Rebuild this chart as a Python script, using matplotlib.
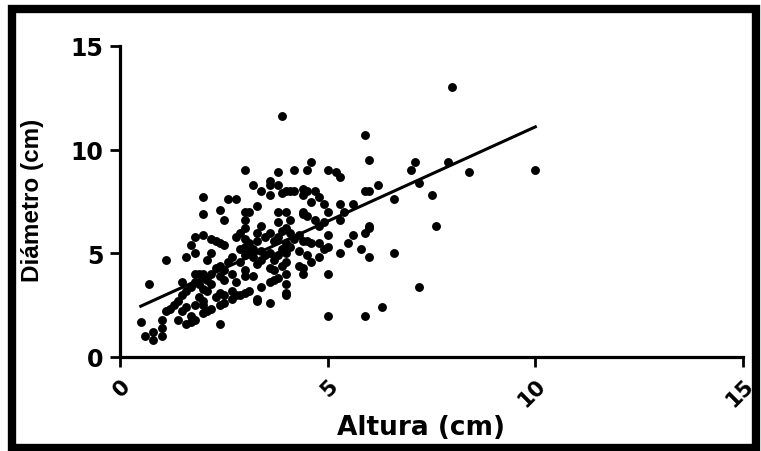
import matplotlib.pyplot as plt
from matplotlib.patches import Rectangle

plt.rcParams['font.family'] = ['DejaVu Sans']
plt.rcParams['font.weight'] = 'bold'

# Altura (cm) / Diametro (cm)
altura = [
    0.5, 0.6, 0.8, 0.8, 1.0, 1.0, 1.0, 0.7, 1.1, 1.1, 1.2, 1.3, 1.4, 1.4, 1.5, 1.5,
    1.6, 1.6, 1.6, 1.5, 1.6, 1.7, 1.7, 1.7, 1.8, 1.8, 1.8, 1.7, 1.8, 1.8, 1.8, 1.9,
    1.9, 1.9,
    2.0, 2.0, 2.0, 2.0, 2.0, 2.0, 2.0, 2.0, 2.0, 2.1, 2.1, 2.1, 2.1, 2.2, 2.2, 2.2,
    2.2, 2.2, 2.3, 2.3, 2.3, 2.4, 2.4, 2.4, 2.4, 2.4, 2.4, 2.4, 2.5, 2.5, 2.5, 2.5,
    2.5, 2.5, 2.6, 2.6, 2.7, 2.7, 2.7, 2.7, 2.8, 2.8, 2.8, 2.8, 2.9, 2.9, 2.9, 2.9,
    3.0, 3.0, 3.0, 3.0, 3.0, 3.0, 3.0, 3.0, 3.0, 3.0, 3.1, 3.1, 3.1, 3.1, 3.2, 3.2,
    3.2, 3.2, 3.3, 3.3, 3.3, 3.3, 3.3, 3.3, 3.4, 3.4, 3.4, 3.4, 3.4, 3.5, 3.5, 3.6,
    3.6, 3.6, 3.6, 3.6, 3.6, 3.6, 3.6, 3.7, 3.7, 3.7, 3.7, 3.8, 3.8, 3.8, 3.8, 3.8,
    3.8, 3.8, 3.9, 3.9, 3.9, 3.9, 3.9,
    4.0, 4.0, 4.0, 4.0, 4.0, 4.0, 4.0, 4.0, 4.0, 4.0, 4.1, 4.1, 4.1, 4.1, 4.2, 4.2,
    4.2, 4.3, 4.3, 4.3, 4.4, 4.4, 4.4, 4.4, 4.4, 4.4, 4.4, 4.5, 4.5, 4.5, 4.5, 4.5,
    4.6, 4.6, 4.6, 4.6, 4.7, 4.7, 4.8, 4.8, 4.8, 4.8, 4.9, 4.9, 4.9,
    5.0, 5.0, 5.0, 5.0, 5.0, 5.0, 5.2, 5.3, 5.3, 5.3, 5.3, 5.4, 5.5, 5.6, 5.6, 5.8,
    5.9, 5.9, 5.9, 5.9, 6.0, 6.0, 6.0, 6.0, 6.0, 6.2, 6.3, 6.6, 6.6, 7.0, 7.1, 7.2,
    7.2, 7.5, 7.6, 7.9, 8.0, 8.4, 10.0,
]
diametro = [
    1.7, 1.0, 0.8, 1.2, 1.0, 1.4, 1.8, 3.5, 2.2, 4.7, 2.3, 2.5, 1.8, 2.7, 3.0, 2.2,
    1.6, 2.4, 3.2, 3.6, 4.8, 1.7, 2.0, 3.4, 1.8, 2.5, 5.8, 5.4, 5.0, 3.6, 4.0, 3.5,
    2.9, 4.0,
    2.1, 2.5, 2.7, 3.3, 3.8, 4.0, 5.9, 6.9, 7.7, 2.2, 3.2, 3.7, 4.7, 2.3, 3.5, 4.0,
    5.0, 5.7, 4.3, 5.6, 2.9, 1.6, 2.5, 3.1, 3.9, 4.4, 5.5, 7.1, 2.6, 3.0, 3.7, 4.2,
    5.4, 6.6, 4.6, 7.6, 2.8, 3.2, 4.0, 4.8, 3.0, 3.6, 5.8, 7.6, 3.0, 4.6, 5.2, 6.0,
    3.1, 3.9, 4.2, 4.9, 5.3, 5.7, 6.2, 6.6, 7.0, 9.0, 3.2, 5.0, 5.5, 7.0, 3.9, 4.8,
    5.2, 8.3, 2.8, 2.7, 4.5, 5.6, 6.0, 7.3, 3.4, 4.7, 5.1, 6.3, 8.0, 4.9, 5.8, 2.6,
    3.6, 4.3, 5.0, 6.0, 7.8, 8.3, 8.5, 3.7, 4.2, 4.7, 5.6, 3.8, 4.9, 5.8, 6.5, 7.0,
    8.3, 8.9, 4.4, 5.2, 6.1, 7.9, 11.6,
    3.0, 3.1, 3.5, 4.0, 4.6, 5.0, 5.5, 6.2, 7.0, 8.0, 5.3, 6.0, 6.6, 8.0, 5.7, 8.0,
    9.0, 4.4, 5.1, 5.9, 4.0, 4.3, 5.6, 6.9, 7.0, 7.8, 8.1, 4.9, 5.6, 6.8, 8.0, 9.0,
    4.6, 5.5, 7.5, 9.4, 6.6, 8.0, 4.8, 5.5, 6.3, 7.7, 5.2, 7.4, 6.5,
    2.0, 4.0, 5.3, 5.9, 7.0, 9.0, 8.9, 8.7, 5.0, 6.6, 7.4, 7.0, 5.5, 5.9, 7.4, 5.2,
    2.0, 6.0, 8.0, 10.7, 4.8, 6.2, 6.3, 8.0, 9.5, 8.3, 2.4, 5.0, 7.6, 9.0, 9.4, 8.4,
    3.4, 7.8, 6.3, 9.4, 13.0, 8.9, 9.0,
]

# fitted line, end points
fit_x = [0.5, 10.0]
fit_y = [2.45, 11.1]

ticks = [0, 5, 10, 15]

fig = plt.figure(figsize=(7.61, 4.52), dpi=100)
ax = fig.add_axes([120 / 761, 1 - 358 / 452, 623 / 761, 311 / 452])

ax.plot(altura, diametro, 'o', color='black', markersize=6.4, markeredgewidth=0)
ax.plot(fit_x, fit_y, '-', color='black', linewidth=2.2)

ax.set_xlim(0, 15)
ax.set_ylim(0, 15)
ax.set_xticks(ticks)
ax.set_yticks(ticks)
for s in ['top', 'right']:
    ax.spines[s].set_visible(False)
for s in ['left', 'bottom']:
    ax.spines[s].set_linewidth(2.3)
ax.tick_params(direction='out', length=7, width=2)
ax.tick_params(axis='x', pad=6, labelsize=15.5)
ax.tick_params(axis='y', pad=5, labelsize=17)
plt.setp(ax.get_xticklabels(), rotation=45, ha='right', va='top',
         rotation_mode='anchor', fontweight='bold')
plt.setp(ax.get_yticklabels(), fontweight='bold')

fig.text(421 / 761, 1 - 428 / 452, 'Altura (cm)', ha='center', va='center',
         fontsize=19, fontweight='bold')
fig.text(33 / 761, 1 - 200 / 452, 'Diámetro (cm)', ha='center', va='center',
         rotation=90, fontsize=17.5, fontweight='bold',
         family=['Liberation Sans', 'DejaVu Sans'])

# thick frame round the whole picture
fig.patches.append(Rectangle((12 / 761, 1 - 449 / 452), 744 / 761, 439.5 / 452,
                             transform=fig.transFigure, fill=False,
                             edgecolor='black', linewidth=6))

fig.savefig('out.png', dpi=100)
